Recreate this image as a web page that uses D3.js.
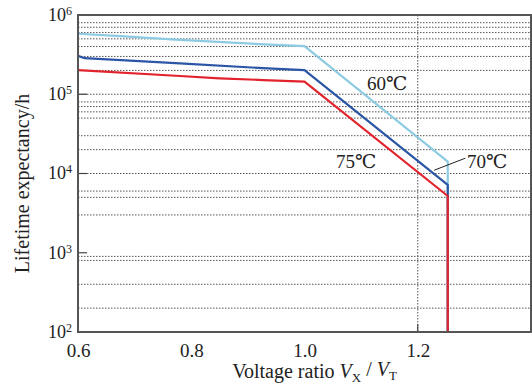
<!DOCTYPE html>
<html>
<head>
<meta charset="utf-8">
<script src="https://cdn.jsdelivr.net/npm/d3@7"></script>
<style>
  body { margin: 0; background: #fff; }
  svg text { font-family: "Liberation Serif", "DejaVu Serif", serif; fill: #222; }
</style>
</head>
<body>
<svg id="chart" width="532" height="392"></svg>
<script>
// tick labels and grid values
const xTicks = [0.6, 0.8, 1.0, 1.2];
const yTicks = [1e2, 1e3, 1e4, 1e5, 1e6];
const xGrid = [1.2];
const yMajorGrid = [1e5, 1e4];
const yMinorGrid = [8e5, 7e5, 6e5, 5e5, 4e5, 3e5, 2e5,
                    8e4, 7e4, 6e4, 5e4, 3e4, 2e4,
                    6e3, 5e3, 3e3,
                    9e2, 8e2, 4e2, 2e2];

// lifetime curves, voltage ratio vs hours
const ratio60 = [0.6, 0.675, 0.78, 0.92, 1.0, 1.253, 1.253];
const life60  = [5.8e5, 5.4e5, 4.85e5, 4.3e5, 4.05e5, 1.41e4, 1e2];
const ratio70 = [0.6, 0.612, 0.78, 0.944, 1.0, 1.253, 1.253];
const life70  = [3.05e5, 2.85e5, 2.45e5, 2.1e5, 2.02e5, 7.2e3, 1e2];
const ratio75 = [0.6, 0.78, 0.85, 0.927, 1.0, 1.253, 1.253];
const life75  = [2.02e5, 1.7e5, 1.59e5, 1.51e5, 1.44e5, 5.2e3, 1e2];

const seriesNames = ["60℃", "70℃", "75℃"];
const seriesColors = ["#8ccbe2", "#2b55a5", "#e3232c"];

// annotation anchors in data units
const labelRatio = [1.146, 1.287, 1.091];
const labelLife  = [1.13e5, 1.17e4, 1.17e4];
const leaderRatio = [1.229, 1.284];
const leaderLife  = [1.1e4, 1.56e4];

const width = 532, height = 392;
const margin = { top: 15, right: 1, bottom: 60, left: 78 };
const innerW = width - margin.left - margin.right;
const innerH = height - margin.top - margin.bottom;

const svg = d3.select("#chart");
const g = svg.append("g").attr("transform", `translate(${margin.left},${margin.top})`);

const x = d3.scaleLinear().domain([0.6, 1.4]).range([0, innerW]);
const y = d3.scaleLog().domain([1e2, 1e6]).range([innerH, 0]);

// grid
g.append("g").selectAll("line")
  .data(yMinorGrid.concat(yMajorGrid))
  .join("line")
  .attr("x1", 0).attr("x2", innerW)
  .attr("y1", d => y(d)).attr("y2", d => y(d))
  .attr("stroke", "#555")
  .attr("stroke-width", 1)
  .attr("stroke-dasharray", "1.5,1.5");

g.append("g").selectAll("line")
  .data(xGrid)
  .join("line")
  .attr("x1", d => x(d)).attr("x2", d => x(d))
  .attr("y1", 0).attr("y2", innerH)
  .attr("stroke", "#555")
  .attr("stroke-width", 1)
  .attr("stroke-dasharray", "1.5,1.5");

// short inward ticks
g.append("g").selectAll("line")
  .data(xGrid)
  .join("line")
  .attr("x1", d => x(d)).attr("x2", d => x(d))
  .attr("y1", innerH).attr("y2", innerH - 8)
  .attr("stroke", "#444").attr("stroke-width", 1.2);

g.append("g").selectAll("line")
  .data(yTicks.slice(1, 4))
  .join("line")
  .attr("x1", 0).attr("x2", 9)
  .attr("y1", d => y(d)).attr("y2", d => y(d))
  .attr("stroke", "#444").attr("stroke-width", 1.2);

// curves
const line = d3.line().x(d => x(d[0])).y(d => y(d[1]));
const curves = [
  d3.zip(ratio60, life60),
  d3.zip(ratio70, life70),
  d3.zip(ratio75, life75)
];

g.append("g").selectAll("path")
  .data(curves)
  .join("path")
  .attr("d", line)
  .attr("fill", "none")
  .attr("stroke", (d, i) => seriesColors[i])
  .attr("stroke-width", 2.2)
  .attr("stroke-linejoin", "round");

// frame
g.append("rect")
  .attr("x", 0).attr("y", 0)
  .attr("width", innerW).attr("height", innerH)
  .attr("fill", "none")
  .attr("stroke", "#555")
  .attr("stroke-width", 2);

// axes
const xAxis = g.append("g")
  .attr("transform", `translate(0,${innerH})`)
  .call(d3.axisBottom(x).tickValues(xTicks).tickSize(0).tickPadding(12).tickFormat(d3.format(".1f")));
xAxis.select(".domain").remove();
xAxis.selectAll("text")
  .style("font-size", "19px")
  .style("font-family", "Liberation Serif, serif")
  .attr("fill", "#222")
  .attr("dy", "0.71em");

const yAxis = g.append("g")
  .call(d3.axisLeft(y).tickValues(yTicks).tickSize(0).tickPadding(6));
yAxis.select(".domain").remove();
yAxis.selectAll("text")
  .style("font-size", "18px")
  .style("font-family", "Liberation Serif, serif")
  .attr("fill", "#222")
  .attr("dy", "0.3em")
  .each(function(d) {
    const t = d3.select(this).text("");
    t.append("tspan").text("10");
    t.append("tspan")
      .attr("dy", "-0.5em")
      .style("font-size", "12px")
      .text(Math.round(Math.log10(d)));
  });

// series labels
g.append("g").selectAll("text")
  .data(seriesNames)
  .join("text")
  .attr("x", (d, i) => x(labelRatio[i]))
  .attr("y", (d, i) => y(labelLife[i]))
  .attr("text-anchor", (d, i) => i === 1 ? "start" : "middle")
  .style("font-size", "19px")
  .text(d => d);

g.append("line")
  .attr("x1", x(leaderRatio[0])).attr("y1", y(leaderLife[0]))
  .attr("x2", x(leaderRatio[1])).attr("y2", y(leaderLife[1]))
  .attr("stroke", "#222")
  .attr("stroke-width", 1);

// axis titles
const xTitle = svg.append("text")
  .attr("x", margin.left + innerW / 2 + 10)
  .attr("y", 378)
  .attr("text-anchor", "middle")
  .style("font-size", "20px");
xTitle.append("tspan").text("Voltage ratio ");
xTitle.append("tspan").style("font-style", "italic").text("V");
xTitle.append("tspan").attr("dy", "0.3em").style("font-size", "13px").text("X");
xTitle.append("tspan").attr("dy", "-0.3em").text(" / ");
xTitle.append("tspan").style("font-style", "italic").text("V");
xTitle.append("tspan").attr("dy", "0.3em").style("font-size", "13px").text("T");

svg.append("text")
  .attr("transform", `translate(29,${margin.top + innerH / 2 + 10}) rotate(-90)`)
  .attr("text-anchor", "middle")
  .style("font-size", "20px")
  .text("Lifetime expectancy/h");
</script>
</body>
</html>
